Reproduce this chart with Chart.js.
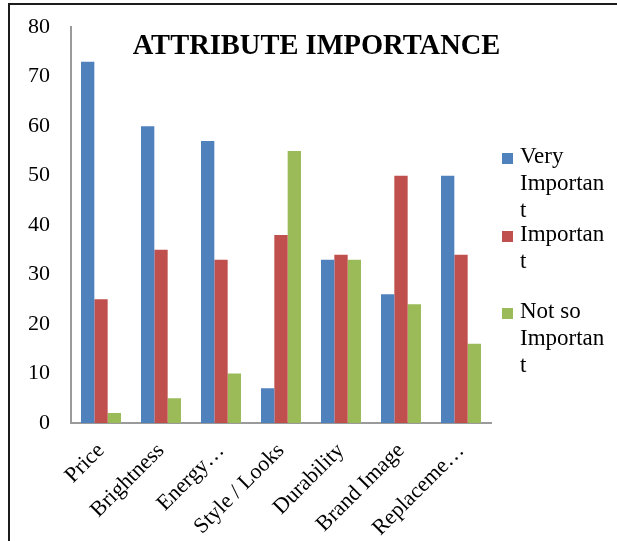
<!DOCTYPE html>
<html>
<head>
<meta charset="utf-8">
<script src="https://cdn.jsdelivr.net/npm/chart.js@4.4.1/dist/chart.umd.min.js"></script>
<style>
  html, body { margin: 0; padding: 0; background: #fff; overflow: hidden; }
  #wrap { position: relative; width: 617px; height: 541px; overflow: hidden; }
  #frame {
    position: absolute; left: 8px; top: 3px; width: 800px; height: 800px;
    border-left: 2px solid #1c1c1c; border-top: 2px solid #1c1c1c;
    pointer-events: none;
  }
  canvas { position: absolute; left: 0; top: -7px; }
  #legend { position: absolute; left: 0; top: 0; font-family: "Liberation Serif", "Times New Roman", serif; font-size: 23px; color: #000; }
  .entry { position: absolute; left: 502px; }
  .swatch { position: absolute; left: 0; top: 11px; width: 11px; height: 11px; }
  .text { position: absolute; left: 18px; top: 0; width: 87px; line-height: 27px; overflow-wrap: anywhere; }
</style>
</head>
<body>
<div id="wrap">
  <canvas id="chart" width="617" height="548"></canvas>
  <div id="frame"></div>
  <div id="legend"></div>
</div>
<script>
// Attribute importance survey results (percent of respondents)
const categories = ["Price", "Brightness", "Energy\u2026", "Style / Looks", "Durability", "Brand Image", "Replaceme\u2026"];
const seriesNames = ["Very Important", "Important", "Not so Important"];
const veryImportant = [73, 60, 57, 7, 33, 26, 50];
const important = [25, 35, 33, 38, 34, 50, 34];
const notSoImportant = [2, 5, 10, 55, 33, 24, 16];
const yTicks = [0, 10, 20, 30, 40, 50, 60, 70, 80];
const chartTitle = "ATTRIBUTE IMPORTANCE";

const colors = ["#4F81BD", "#C0504D", "#9BBB59"];
const serif = "'Liberation Serif', 'Times New Roman', serif";

// Title drawn over the plot area, centred on the chart frame
const titleOverlay = {
  id: "titleOverlay",
  afterDraw(chart) {
    const ctx = chart.ctx;
    ctx.save();
    ctx.font = "bold 28.5px " + serif;
    ctx.fillStyle = "#000";
    ctx.textAlign = "center";
    ctx.textBaseline = "alphabetic";
    ctx.fillText(chartTitle, (chart.width + 16) / 2, 61);
    ctx.restore();
  }
};

const chart = new Chart(document.getElementById("chart"), {
  type: "bar",
  data: {
    labels: categories,
    datasets: [
      { label: seriesNames[0], data: veryImportant, backgroundColor: colors[0] },
      { label: seriesNames[1], data: important, backgroundColor: colors[1] },
      { label: seriesNames[2], data: notSoImportant, backgroundColor: colors[2] }
    ]
  },
  options: {
    responsive: false,
    animation: false,
    events: [],
    datasets: { bar: { categoryPercentage: 0.667, barPercentage: 1.0 } },
    layout: { padding: { top: 19, right: 126, bottom: 0, left: 0 } },
    plugins: { legend: { display: false }, title: { display: false }, tooltip: { enabled: false } },
    scales: {
      x: {
        grid: { display: false, drawTicks: false, tickLength: 0 },
        border: { display: true, color: "#9a9a9a", width: 2 },
        ticks: {
          color: "#000", font: { family: serif, size: 22 },
          minRotation: 45, maxRotation: 45, padding: 15, autoSkip: false
        },
        afterFit(scale) { scale.height = 118; }
      },
      y: {
        min: 0, max: 80,
        afterBuildTicks(scale) { scale.ticks = yTicks.map(v => ({ value: v })); },
        grid: { display: false, drawTicks: false, tickLength: 0 },
        border: { display: true, color: "#9a9a9a", width: 2 },
        ticks: { color: "#000", font: { family: serif, size: 22 }, padding: 21 },
        afterFit(scale) { scale.width = 71; }
      }
    }
  },
  plugins: [titleOverlay]
});

// Legend built from the chart's datasets, entries stacked down the right side
const legend = document.getElementById("legend");
chart.data.datasets.forEach((ds, i) => {
  const entry = document.createElement("div");
  entry.className = "entry";
  entry.style.top = (142 + i * 77.5) + "px";
  const sw = document.createElement("div");
  sw.className = "swatch";
  sw.style.background = ds.backgroundColor;
  const tx = document.createElement("div");
  tx.className = "text";
  tx.textContent = ds.label;
  entry.appendChild(sw);
  entry.appendChild(tx);
  legend.appendChild(entry);
});
</script>
</body>
</html>
